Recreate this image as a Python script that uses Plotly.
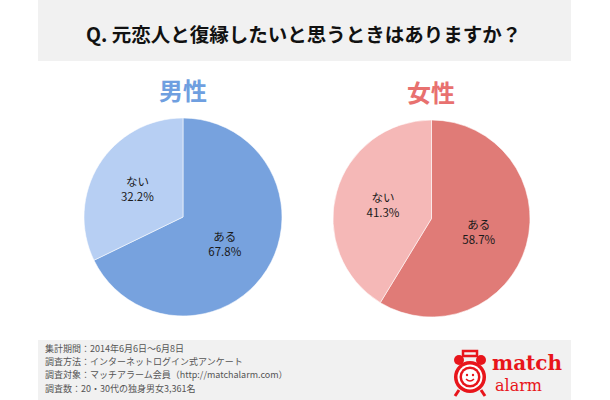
import plotly.graph_objects as go

# ---- data ----
labels = ["ある", "ない"]
male_values = [67.8, 32.2]
female_values = [58.7, 41.3]
male_colors = ["#77a2de", "#b7cff3"]
female_colors = ["#e07b77", "#f5b8b7"]
title_text = "Q. 元恋人と復縁したいと思うときはありますか？"
group_titles = ["男性", "女性"]
footer_lines = [
    "集計期間：2014年6月6日～6月8日",
    "調査方法：インターネットログイン式アンケート",
    "調査対象：マッチアラーム会員（http://matchalarm.com）",
    "調査数：20・30代の独身男女3,361名",
]

W, H = 610, 400
FONT = "Noto Sans CJK JP"

def px(x):
    return x / W

def py(y):
    return 1 - y / H

fig = go.Figure()

def add_pie(values, colors, x0, x1, y0, y1):
    fig.add_trace(go.Pie(
        labels=labels,
        values=values,
        sort=False,
        direction="clockwise",
        rotation=0,
        marker=dict(colors=colors, line=dict(color="rgba(255,255,255,0.7)", width=0.8)),
        texttemplate="%{label}<br>%{value:.1f}%",
        textposition="inside",
        insidetextorientation="horizontal",
        textfont=dict(family=FONT, size=11.5, color="#1a1a1a"),
        hoverinfo="label+percent",
        showlegend=False,
        domain=dict(x=[px(x0), px(x1)], y=[py(y1), py(y0)]),
    ))

add_pie(male_values, male_colors, 84, 282, 118, 316)
add_pie(female_values, female_colors, 333, 530, 120, 317)

shapes = [
    dict(type="rect", xref="paper", yref="paper", x0=px(38), x1=px(571), y0=py(61), y1=py(0),
         fillcolor="#f1f1f1", line=dict(width=0), layer="below"),
    dict(type="rect", xref="paper", yref="paper", x0=px(38), x1=px(571), y0=py(400), y1=py(340),
         fillcolor="#f1f1f1", line=dict(width=0), layer="below"),
]

# logo (alarm clock) shapes
red = "#e8151b"
cx, cy = 470, 377
def circ(cx, cy, r, fill, line_color=None, lw=0):
    return dict(type="circle", xref="paper", yref="paper",
                x0=px(cx - r), x1=px(cx + r), y0=py(cy + r), y1=py(cy - r),
                fillcolor=fill, line=dict(color=line_color or fill, width=lw), layer="above")
shapes += [
    dict(type="line", xref="paper", yref="paper", x0=px(459), y0=py(390), x1=px(455), y1=py(396),
         line=dict(color=red, width=3)),
    dict(type="line", xref="paper", yref="paper", x0=px(481), y0=py(390), x1=px(485), y1=py(396),
         line=dict(color=red, width=3)),
    circ(459, 360, 5, red),
    circ(481, 360, 5, red),
    dict(type="rect", xref="paper", yref="paper", x0=px(463), x1=px(477), y0=py(356), y1=py(351),
         fillcolor="rgba(0,0,0,0)", line=dict(color=red, width=2.5)),
    circ(cx, cy, 16, red),
    circ(cx, cy, 12.5, "white"),
    circ(cx, cy, 10.5, red),
    circ(cx, cy, 8, "white"),
    circ(cx - 3, cy - 2, 1.2, red),
    circ(cx + 3, cy - 2, 1.2, red),
    dict(type="path", xref="paper", yref="paper",
         path=f"M {px(cx-4)},{py(cy+2)} Q {px(cx)},{py(cy+6)} {px(cx+4)},{py(cy+2)}",
         line=dict(color=red, width=1.5)),
]

annotations = [
    dict(text=f"<b>{title_text}</b>", x=px(303), y=py(33), xref="paper", yref="paper",
         showarrow=False, xanchor="center", yanchor="middle",
         font=dict(family=FONT, size=19.5, color="#111111")),
    dict(text=f"<b>{group_titles[0]}</b>", x=px(183), y=py(90), xref="paper", yref="paper",
         showarrow=False, xanchor="center", yanchor="middle",
         font=dict(family=FONT, size=24, color="#6f9fe0")),
    dict(text=f"<b>{group_titles[1]}</b>", x=px(431), y=py(91), xref="paper", yref="paper",
         showarrow=False, xanchor="center", yanchor="middle",
         font=dict(family=FONT, size=24, color="#e8716f")),
    dict(text="<b>match</b>", x=px(491), y=py(362.5), xref="paper", yref="paper",
         showarrow=False, xanchor="left", yanchor="middle", borderpad=0,
         font=dict(family="DejaVu Serif", size=20, color=red)),
    dict(text="alarm", x=px(494), y=py(385.5), xref="paper", yref="paper",
         showarrow=False, xanchor="left", yanchor="middle", borderpad=0,
         font=dict(family="DejaVu Serif", size=16, color=red)),
]
for i, line in enumerate(footer_lines):
    annotations.append(dict(text=line, x=px(44), y=py(348.5 + 13.2 * i), xref="paper", yref="paper",
                            showarrow=False, xanchor="left", yanchor="middle", borderpad=0,
                            font=dict(family=FONT, size=9, color="#555555")))

fig.update_layout(
    width=W, height=H,
    margin=dict(l=0, r=0, t=0, b=0),
    paper_bgcolor="white",
    plot_bgcolor="white",
    shapes=shapes,
    annotations=annotations,
)

fig.write_html("out.html", config={"displayModeBar": False},
               post_script="document.body.style.margin='0px';")
